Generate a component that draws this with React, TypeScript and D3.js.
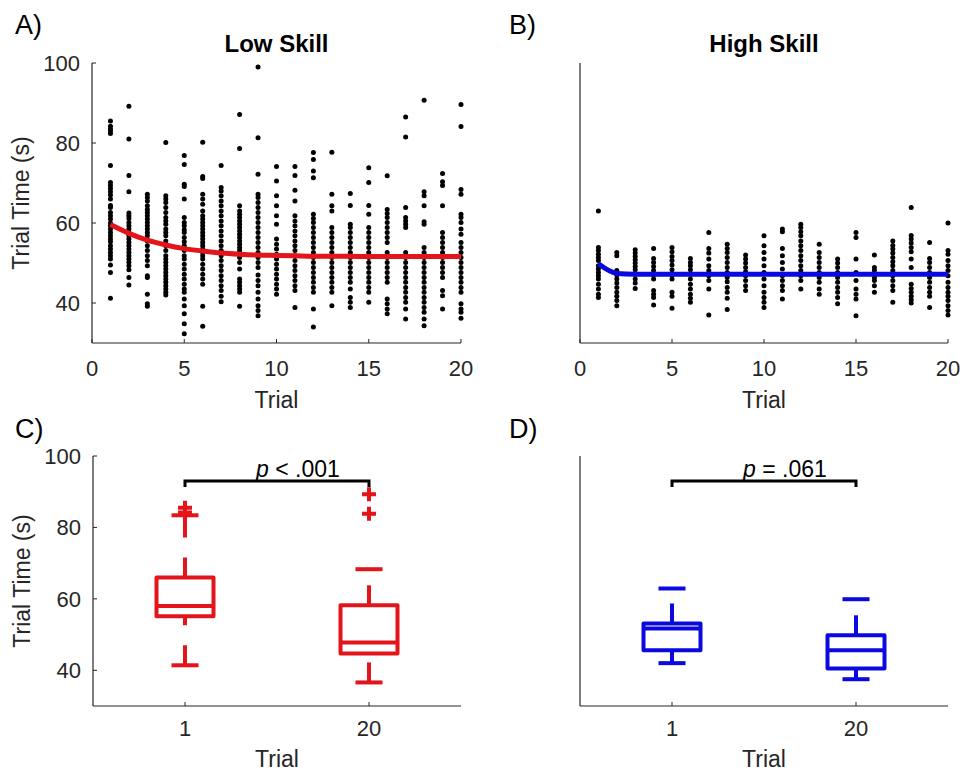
import React from 'react';
import * as d3 from 'd3';

// trial numbers on the x axis of the scatter panels
const trials = [1, 2, 3, 4, 5, 6, 7, 8, 9, 10, 11, 12, 13, 14, 15, 16, 17, 18, 19, 20];
const scatterTicks = [0, 5, 10, 15, 20];
const timeTicks = [40, 60, 80, 100];

// trial times (s) of every participant, one list per trial
const lowSkillTimes = [
    [85.5, 84.2, 83.5, 83, 82.4, 74.4, 70.1, 69.4, 68.6, 67.8, 67.0, 66.0, 64.4, 63.9, 62.6, 61.8, 61.0, 60.0, 59.3, 58.5, 57.6, 56.8, 56.0, 55.3, 54.3, 53.5, 52.6, 51.8, 51.0, 49.5, 47.6, 41.2],
    [89.2, 81.0, 71.9, 67.8, 62.5, 61.8, 61.1, 60.1, 59.3, 58.5, 57.6, 56.8, 56.0, 55.1, 54.3, 53.5, 52.6, 51.8, 51.0, 50.2, 49.3, 48.3, 46.4, 44.5],
    [67.2, 66.4, 65.5, 64.3, 63.4, 62.6, 61.8, 61.0, 60.1, 59.3, 58.5, 57.6, 56.8, 55.5, 54.3, 53.1, 51.8, 50.6, 49.3, 46.8, 46.4, 42.2, 39.8, 39.2],
    [80.1, 66.8, 66.0, 65.1, 63.9, 62.6, 61.4, 60.5, 59.7, 58.5, 57.6, 56.8, 55.5, 54.3, 53.1, 51.8, 51.0, 50.2, 49.3, 48.5, 47.6, 46.8, 46.0, 45.2, 44.3, 43.5, 42.7, 42.0],
    [76.9, 74.6, 69.7, 69.1, 66.0, 61.4, 60.1, 59.3, 58.3, 57.6, 56.4, 55.3, 54.3, 53.1, 51.8, 51.0, 49.7, 48.5, 47.2, 46.0, 44.7, 43.5, 42.7, 41.0, 39.3, 37.3, 34.8, 32.3],
    [80.2, 71.6, 71.1, 67.2, 66.0, 64.7, 63.0, 61.8, 61.0, 60.1, 59.3, 58.5, 57.6, 56.8, 56.0, 55.1, 54.3, 53.5, 52.6, 51.8, 51.0, 49.7, 48.5, 47.2, 46.0, 44.7, 39.2, 34.2],
    [74.4, 68.9, 68.0, 66.8, 65.5, 64.3, 63.0, 61.8, 60.5, 59.3, 58.0, 56.8, 55.5, 54.3, 53.1, 51.8, 50.6, 49.3, 48.1, 46.8, 45.6, 44.3, 43.1, 41.7, 40.3],
    [87.1, 78.6, 64.3, 63.0, 62.2, 61.4, 60.5, 59.7, 58.9, 58.0, 57.2, 56.4, 55.5, 54.7, 53.9, 53.1, 52.2, 51.4, 50.1, 48.5, 46.0, 45.2, 44.3, 43.5, 42.7, 39.2],
    [99.0, 81.3, 72.2, 67.2, 66.4, 65.1, 63.9, 62.6, 61.4, 60.1, 58.9, 57.6, 56.4, 55.1, 53.9, 52.6, 51.4, 50.1, 48.9, 47.0, 45.6, 44.3, 42.7, 41.0, 39.3, 38.1, 36.8],
    [74.1, 70.5, 66.8, 64.3, 61.8, 59.7, 56.0, 54.7, 53.5, 52.2, 51.0, 49.7, 48.5, 47.2, 46.0, 44.7, 43.5, 42.2],
    [74.1, 71.9, 68.2, 65.5, 61.8, 60.5, 59.3, 58.0, 56.8, 55.5, 54.3, 53.1, 51.8, 50.6, 49.3, 48.1, 46.8, 45.6, 44.3, 43.1, 38.9],
    [77.6, 75.9, 73.0, 71.3, 62.2, 61.1, 60.1, 58.9, 57.6, 56.4, 55.1, 53.9, 52.6, 51.4, 50.1, 48.9, 47.6, 46.4, 45.2, 43.9, 42.7, 38.5, 34.0],
    [77.7, 67.2, 64.3, 63.0, 58.9, 57.6, 56.4, 55.1, 53.9, 52.6, 51.4, 50.1, 48.9, 47.6, 46.4, 45.2, 43.9, 42.7, 39.3],
    [67.4, 64.4, 59.7, 58.9, 57.6, 56.4, 55.1, 53.9, 52.6, 51.4, 50.1, 48.9, 47.6, 46.4, 45.2, 43.5, 41.4, 40.2, 38.9],
    [73.8, 70.1, 64.4, 62.2, 58.9, 57.6, 56.4, 55.1, 53.9, 52.6, 51.4, 50.1, 48.9, 47.6, 46.4, 45.2, 43.9, 42.7, 40.2],
    [71.8, 63.4, 62.4, 61.4, 60.1, 58.9, 57.6, 56.4, 55.1, 52.6, 51.4, 50.1, 48.9, 47.6, 46.4, 45.2, 41.0, 39.8, 38.5, 37.3],
    [86.5, 81.5, 63.9, 61.4, 60.5, 59.7, 58.9, 52.6, 51.4, 50.1, 48.9, 47.6, 46.4, 45.2, 43.9, 42.7, 41.4, 40.2, 38.5, 36.0],
    [90.7, 67.8, 66.8, 64.3, 60.3, 59.7, 53.9, 52.6, 51.4, 50.1, 48.9, 47.6, 46.4, 45.2, 43.9, 42.7, 41.4, 40.2, 38.9, 37.7, 36.0, 34.3],
    [72.4, 70.3, 69.4, 64.3, 57.6, 56.4, 55.1, 53.9, 52.6, 51.4, 50.1, 48.9, 47.6, 46.4, 43.1, 41.8, 38.5],
    [89.6, 84.1, 68.4, 67.2, 62.2, 61.4, 60.1, 58.5, 57.2, 55.1, 53.9, 52.6, 51.4, 50.1, 48.9, 47.6, 46.4, 45.2, 43.9, 42.7, 39.8, 38.5, 37.7, 36.2],
];

const highSkillTimes = [
    [63.0, 53.9, 53.1, 52.2, 51.4, 50.6, 49.3, 48.5, 47.6, 46.8, 46.0, 44.7, 43.5, 42.2, 41.4],
    [52.6, 51.8, 48.1, 47.0, 46.0, 45.0, 43.9, 42.7, 41.7, 40.6, 39.3],
    [53.3, 52.5, 51.6, 50.8, 50.0, 49.1, 48.3, 47.2, 46.0, 45.0, 43.6],
    [53.6, 51.1, 50.1, 49.1, 48.1, 47.0, 46.0, 43.1, 42.2, 41.4, 39.5],
    [53.9, 52.8, 51.6, 50.6, 49.5, 48.3, 47.0, 46.0, 42.7, 41.7, 38.7],
    [51.1, 50.1, 49.3, 48.3, 47.2, 46.0, 44.7, 43.5, 42.2, 41.2, 40.2],
    [57.6, 53.6, 52.5, 51.0, 49.3, 48.1, 46.8, 45.6, 43.5, 37.0],
    [54.7, 53.6, 52.6, 51.4, 50.1, 48.9, 47.6, 46.4, 45.3, 43.9, 42.7, 41.2, 38.4],
    [52.0, 51.0, 50.0, 48.9, 47.8, 46.8, 45.6, 44.3, 43.1],
    [56.8, 54.3, 52.6, 51.0, 49.3, 47.6, 46.0, 44.3, 42.7, 41.4, 40.2, 38.9],
    [58.5, 57.8, 53.6, 51.8, 50.1, 48.5, 46.8, 45.6, 44.3, 43.1, 41.0],
    [59.7, 58.9, 57.8, 56.8, 55.5, 54.3, 53.1, 51.8, 50.6, 49.3, 48.1, 46.8, 45.6, 43.5],
    [54.7, 52.6, 51.4, 50.1, 48.9, 47.6, 46.4, 45.2, 43.5, 42.2],
    [51.0, 50.0, 48.9, 47.6, 46.4, 45.2, 43.9, 42.7, 41.4, 39.8],
    [57.6, 56.4, 51.0, 47.6, 45.6, 43.5, 42.2, 41.0, 36.8],
    [52.0, 48.9, 48.1, 47.2, 46.4, 45.6, 44.3, 42.7],
    [55.5, 54.4, 53.5, 52.5, 51.4, 50.3, 49.3, 48.1, 46.8, 45.6, 44.3, 43.1, 40.2],
    [63.9, 56.9, 56.0, 55.0, 53.9, 52.8, 51.0, 48.9, 44.7, 43.6, 42.7, 41.7, 40.8, 40.0],
    [55.1, 51.1, 50.1, 48.9, 47.6, 46.4, 45.2, 43.9, 42.7, 41.7, 38.9],
    [60.0, 53.1, 52.2, 50.6, 49.3, 48.1, 46.8, 45.2, 43.9, 42.7, 41.7, 40.6, 39.3, 38.1, 37.0],
];

// fitted learning curves
const lowSkillFit = [59.6, 57.4, 55.7, 54.5, 53.6, 53.0, 52.5, 52.2, 52.0, 51.9, 51.8, 51.7, 51.7, 51.7, 51.6, 51.6, 51.6, 51.6, 51.6, 51.6];
const highSkillFit = [49.8, 47.4, 47.2, 47.2, 47.2, 47.2, 47.2, 47.2, 47.2, 47.2, 47.2, 47.2, 47.2, 47.2, 47.2, 47.2, 47.2, 47.2, 47.2, 47.2];

// box plot summaries for trial 1 and trial 20
const boxLabels = ['1', '20'];
const lowSkillBoxes = [
    { lo: 41.4, q1: 55.1, med: 58.0, q3: 66.0, hi: 83.4, out: [84.2, 85.5] },
    { lo: 36.6, q1: 44.7, med: 47.8, q3: 58.2, hi: 68.3, out: [83.8, 89.3] },
];
const highSkillBoxes = [
    { lo: 42.0, q1: 45.6, med: 51.7, q3: 53.1, hi: 62.9, out: [] },
    { lo: 37.5, q1: 40.5, med: 45.6, q3: 49.8, hi: 59.9, out: [] },
];

const FONT = '"Liberation Sans", Arial, Helvetica, sans-serif';
const AXIS = '#262626';
const RED = '#e3141a';
const BLUE = '#0a0ae0';

function ScatterPanel({ left, right, top, bottom, times, fit, color, title, showY }) {
    const x = d3.scaleLinear().domain([0, 20]).range([left, right]);
    const y = d3.scaleLinear().domain([30, 100]).range([bottom, top]);
    const line = d3.line()
        .x((d, i) => x(trials[i]))
        .y(d => y(d))
        .curve(d3.curveMonotoneX);

    return (
        <g>
            <text x={(left + right) / 2} y={top - 11} textAnchor="middle"
                fontWeight="bold" fontSize={24} fill="#000">{title}</text>

            {times.map((col, i) => col.map((v, j) => (
                <circle key={i + '-' + j} cx={x(trials[i])} cy={y(v)} r={2.5} fill="#000" />
            )))}

            <path d={line(fit)} fill="none" stroke={color} strokeWidth={5} strokeLinejoin="round" />

            {/* axes */}
            <line x1={left} x2={right} y1={bottom} y2={bottom} stroke={AXIS} strokeWidth={1.2} />
            <line x1={left} x2={left} y1={top} y2={bottom} stroke={AXIS} strokeWidth={1.2} />
            {scatterTicks.map(t => (
                <g key={t}>
                    <line x1={x(t)} x2={x(t)} y1={bottom} y2={bottom - 4} stroke={AXIS} />
                    <text x={x(t)} y={bottom + 33} textAnchor="middle" fontSize={22} fill={AXIS}>{t}</text>
                </g>
            ))}
            {showY && timeTicks.map(t => (
                <g key={t}>
                    <line x1={left} x2={left + 4} y1={y(t)} y2={y(t)} stroke={AXIS} />
                    <text x={left - 12} y={y(t) + 8} textAnchor="end" fontSize={22} fill={AXIS}>{t}</text>
                </g>
            ))}
            <text x={(left + right) / 2} y={bottom + 65} textAnchor="middle" fontSize={23} fill={AXIS}>Trial</text>
            {showY && (
                <text transform={`translate(${left - 63},${(top + bottom) / 2}) rotate(-90)`}
                    textAnchor="middle" fontSize={23} fill={AXIS}>Trial Time (s)</text>
            )}
        </g>
    );
}

function BoxPanel({ left, right, top, bottom, boxes, color, pText, showY }) {
    const x = d3.scaleLinear().domain([0.5, 2.5]).range([left, right]);
    const y = d3.scaleLinear().domain([30, 100]).range([bottom, top]);
    const boxW = 57;
    const capW = 27;
    const x1 = x(1);
    const x2 = x(2);

    return (
        <g>
            {boxes.map((b, i) => {
                const cx = x(i + 1);
                return (
                    <g key={i} stroke={color} strokeWidth={4} fill="none">
                        {/* whiskers, dashed from the lower value upward */}
                        <line x1={cx} x2={cx} y1={y(b.q3)} y2={y(b.hi)} strokeDasharray="20 20" />
                        <line x1={cx} x2={cx} y1={y(b.lo)} y2={y(b.q1)} strokeDasharray="20 20" />
                        <line x1={cx - capW / 2} x2={cx + capW / 2} y1={y(b.hi)} y2={y(b.hi)} />
                        <line x1={cx - capW / 2} x2={cx + capW / 2} y1={y(b.lo)} y2={y(b.lo)} />
                        <rect x={cx - boxW / 2} y={y(b.q3)} width={boxW} height={y(b.q1) - y(b.q3)}
                            strokeLinejoin="round" />
                        <line x1={cx - boxW / 2} x2={cx + boxW / 2} y1={y(b.med)} y2={y(b.med)} />
                        {b.out.map((o, k) => (
                            <path key={k} d={`M${cx - 7},${y(o)}h14M${cx},${y(o) - 7}v14`} strokeWidth={4} />
                        ))}
                    </g>
                );
            })}

            {/* significance bracket */}
            <path d={`M${x1},${y(91.3)}V${y(93)}H${x2}V${y(91.3)}`} fill="none" stroke="#000" strokeWidth={3} />
            <text x={(x1 + x2) / 2 - 21} y={y(93) - 4} fontSize={23} fill="#000">
                <tspan fontStyle="italic">p</tspan>{pText}
            </text>

            {/* axes */}
            <line x1={left} x2={right} y1={bottom} y2={bottom} stroke={AXIS} strokeWidth={1.2} />
            <line x1={left} x2={left} y1={top} y2={bottom} stroke={AXIS} strokeWidth={1.2} />
            {boxLabels.map((lab, i) => (
                <g key={lab}>
                    <line x1={x(i + 1)} x2={x(i + 1)} y1={bottom} y2={bottom - 4} stroke={AXIS} />
                    <text x={x(i + 1)} y={bottom + 30} textAnchor="middle" fontSize={22} fill={AXIS}>{lab}</text>
                </g>
            ))}
            {showY && timeTicks.map(t => (
                <g key={t}>
                    <line x1={left} x2={left + 4} y1={y(t)} y2={y(t)} stroke={AXIS} />
                    <text x={left - 12} y={y(t) + 8} textAnchor="end" fontSize={22} fill={AXIS}>{t}</text>
                </g>
            ))}
            <text x={(left + right) / 2} y={bottom + 61} textAnchor="middle" fontSize={23} fill={AXIS}>Trial</text>
            {showY && (
                <text transform={`translate(${left - 63},${(top + bottom) / 2}) rotate(-90)`}
                    textAnchor="middle" fontSize={23} fill={AXIS}>Trial Time (s)</text>
            )}
        </g>
    );
}

export default function App() {
    return (
        <svg width={964} height={776} fontFamily={FONT}
            style={{ position: 'absolute', left: 0, top: 0, background: '#fff' }}>
            <text x={15} y={34} fontSize={27} fill="#000">A)</text>
            <text x={509} y={34} fontSize={27} fill="#000">B)</text>
            <text x={15} y={438} fontSize={27} fill="#000">C)</text>
            <text x={509} y={438} fontSize={27} fill="#000">D)</text>

            <ScatterPanel left={92} right={461} top={63} bottom={343}
                times={lowSkillTimes} fit={lowSkillFit} color={RED} title="Low Skill" showY={true} />
            <ScatterPanel left={580} right={948} top={63} bottom={343}
                times={highSkillTimes} fit={highSkillFit} color={BLUE} title="High Skill" showY={false} />

            <BoxPanel left={93} right={461} top={456} bottom={706}
                boxes={lowSkillBoxes} color={RED} pText=" < .001" showY={true} />
            <BoxPanel left={580} right={948} top={456} bottom={706}
                boxes={highSkillBoxes} color={BLUE} pText=" = .061" showY={false} />
        </svg>
    );
}
